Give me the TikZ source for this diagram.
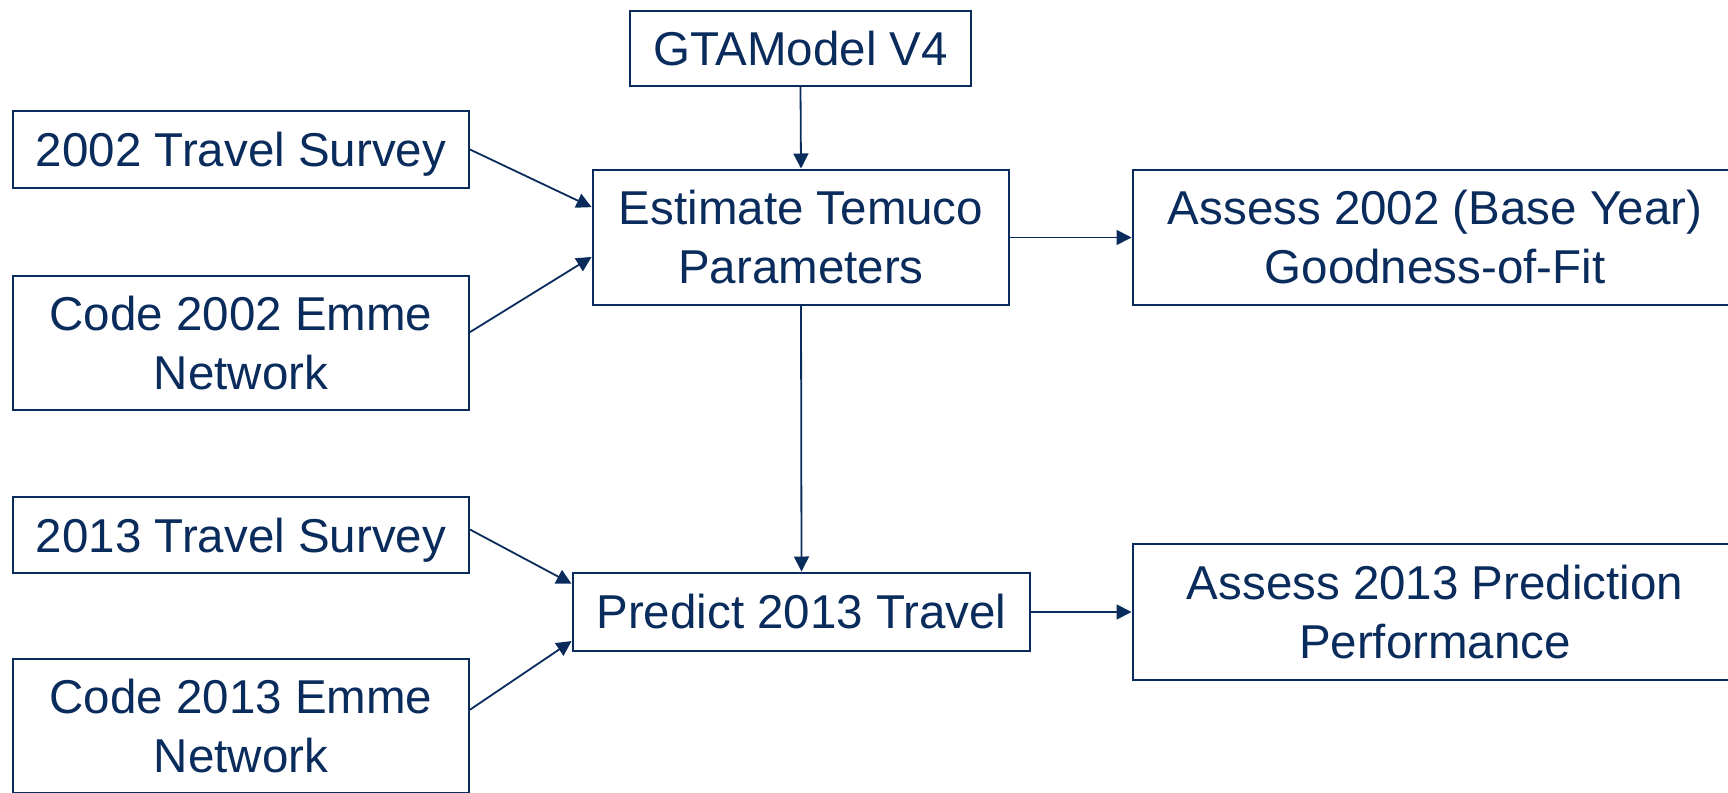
\documentclass[tikz,border=0pt]{standalone}
\usepackage{fontspec}
\setmainfont{Liberation Sans}
\usetikzlibrary{arrows.meta,calc}
\definecolor{navy}{HTML}{0A2C5C}
\tikzset{
  box/.style={draw=navy, line width=2pt, text=navy, fill=white, inner sep=0pt, align=center,
    font=\fontsize{47.5pt}{59pt}\selectfont},
  nodepth/.style={text depth=0pt},
  conn/.style={draw=navy, line width=1.8pt, -{Triangle[length=15pt,width=15pt]}, shorten >=0.5pt}
}
\begin{document}
\begin{tikzpicture}[x=1pt,y=-1pt]
\useasboundingbox (0,0) rectangle (1728,792);
\begin{scope}
\clip (0,0) rectangle (1728,792);
\node[box, minimum width=341pt, minimum height=75pt] (gta) at (800.5,48.5) {GTAModel V4};
\node[box, nodepth, minimum width=456pt, minimum height=77pt] (s02) at (241,149.5) {2002 Travel Survey};
\node[box, minimum width=416pt, minimum height=135pt] (est) at (801,237.5) {Estimate Temuco\\Parameters};
\node[box, minimum width=604pt, minimum height=135pt] (a02) at (1435,237.5) {Assess 2002 (Base Year)\\Goodness-of-Fit};
\node[box, minimum width=456pt, minimum height=134pt] (c02) at (241,343) {Code 2002 Emme\\Network};
\node[box, nodepth, minimum width=456pt, minimum height=76pt] (s13) at (241,535) {2013 Travel Survey};
\node[box, minimum width=457pt, minimum height=78pt] (pre) at (801.5,612) {Predict 2013 Travel};
\node[box, minimum width=604pt, minimum height=136pt] (a13) at (1435,612) {Assess 2013 Prediction\\Performance};
\node[box, minimum width=456pt, minimum height=134pt] (c13) at (241,726) {Code 2013 Emme\\Network};

\draw[conn] (gta.south) -- (est.north);
\draw[conn] (s02.east) -- ($(est.north west)!0.28!(est.south west)$);
\draw[conn] ($(c02.north east)!0.42!(c02.south east)$) -- ($(est.north west)!0.64!(est.south west)$);
\draw[conn] (est.east) -- (a02.west);
\draw[conn] (est.south) -- (pre.north);
\draw[conn] ($(s13.north east)!0.43!(s13.south east)$) -- ($(pre.north west)!0.15!(pre.south west)$);
\draw[conn] ($(c13.north east)!0.38!(c13.south east)$) -- ($(pre.north west)!0.86!(pre.south west)$);
\draw[conn] (pre.east) -- (a13.west);
\end{scope}
\end{tikzpicture}
\end{document}
